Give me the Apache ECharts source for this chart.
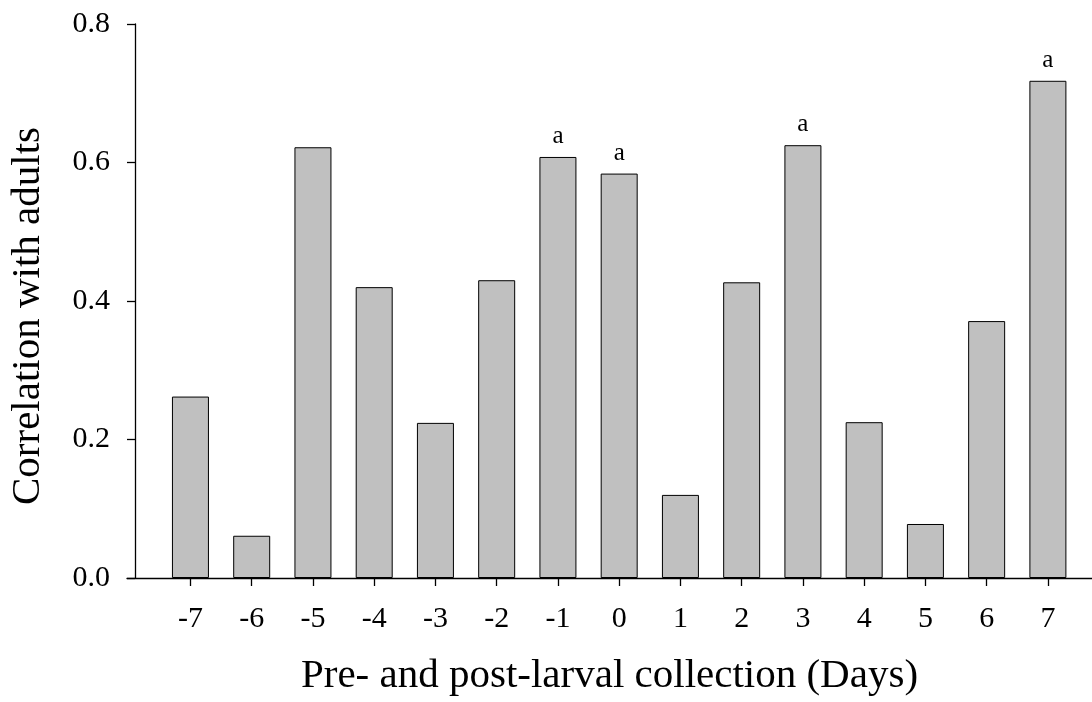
<!DOCTYPE html>
<html lang="en">
<head>
    <meta charset="UTF-8">
    <title>Correlation with adults</title>
    <script src="https://cdn.jsdelivr.net/npm/echarts@6/dist/echarts.min.js"></script>
</head>
<style>
    body{
        margin: 0;
        background-color: #fff;
    }
    #chart{
        width: 1092px;
        height: 702px;
    }
</style>
<body>
    <div id="chart"></div>
    <script>
        // days relative to larval collection
        var days=[-7,-6,-5,-4,-3,-2,-1,0,1,2,3,4,5,6,7];
        // correlation
        var correlation=[0.262,0.061,0.622,0.420,0.224,0.430,0.608,0.584,0.120,0.427,0.625,0.225,0.078,0.371,0.718];
        // significance letters above bars
        var sigLetters=['','','','','','','a','a','','','a','','','','a'];
        var yTicks=[0,0.2,0.4,0.6,0.8];

        var font='"Liberation Serif","Times New Roman",serif';
        var chart=echarts.init(document.getElementById('chart'));

        var barData=days.map(function(d,i){
            return {
                value:[d,correlation[i]],
                label:{
                    show:sigLetters[i]!=='',
                    formatter:sigLetters[i]
                }
            }
        });

        chart.setOption({
            animation:false,
            grid:{
                left:123,
                right:0,
                top:24,
                bottom:124,
                containLabel:false
            },
            xAxis:{
                type:'value',
                min:-8.036,
                max:7.72,
                splitLine:{show:false},
                axisLine:{lineStyle:{color:'#000',width:1.3}},
                axisTick:{
                    customValues:days,
                    length:8,
                    lineStyle:{color:'#000',width:1.3}
                },
                axisLabel:{
                    customValues:days,
                    margin:26,
                    color:'#000',
                    fontFamily:font,
                    fontSize:30
                },
                name:'Pre- and post-larval collection (Days)',
                nameLocation:'middle',
                nameGap:78,
                nameTextStyle:{
                    color:'#000',
                    fontFamily:font,
                    fontSize:41
                }
            },
            yAxis:{
                type:'value',
                min:0,
                max:0.8,
                interval:0.2,
                offset:-8,
                splitLine:{show:false},
                axisLine:{show:true,onZero:false,lineStyle:{color:'#000',width:1.3}},
                axisTick:{
                    show:true,
                    length:8,
                    lineStyle:{color:'#000',width:1.3}
                },
                axisLabel:{
                    margin:25,
                    color:'#000',
                    fontFamily:font,
                    fontSize:30,
                    formatter:function(v){
                        return v.toFixed(1);
                    }
                },
                name:'Correlation with adults',
                nameLocation:'middle',
                nameGap:86,
                nameTextStyle:{
                    color:'#000',
                    fontFamily:font,
                    fontSize:41,
                    padding:[0,30,0,0]
                }
            },
            series:[
                {
                    type:'bar',
                    data:barData,
                    barWidth:37,
                    itemStyle:{
                        color:'#c0c0c0',
                        borderColor:'#000',
                        borderWidth:1
                    },
                    label:{
                        position:'top',
                        distance:8,
                        color:'#000',
                        fontFamily:font,
                        fontSize:25
                    }
                }
            ]
        });
    </script>
</body>
</html>
